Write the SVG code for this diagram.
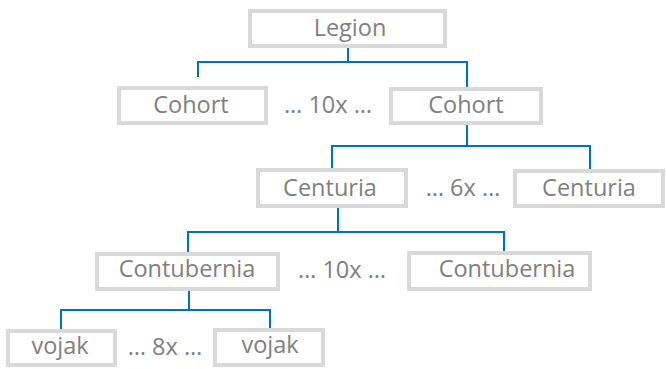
<svg xmlns="http://www.w3.org/2000/svg" width="666" height="369" viewBox="0 0 666 369">
<style>
.box{fill:#fff;stroke:#d9d9d9;stroke-width:4}
.t{font-family:"Open Sans","Liberation Sans",sans-serif;font-size:23.5px;fill:#7f7f7f;text-anchor:middle}
.c{fill:none;stroke:#0070c0;stroke-width:2}
</style>
<rect width="666" height="369" fill="#fff"/>
<g id="connectors">
<path class="c" d="M348 48V62M198 77V62H467V88"/>
<path class="c" d="M467 124V146M332 169V146H590V169"/>
<path class="c" d="M338 208V232M188 252V232H504V252"/>
<path class="c" d="M189 291V310M61 331V310H270V329"/>
</g>
<g id="legion"><rect class="box" x="250" y="11" width="195" height="35"/><text class="t" x="350" y="36">Legion</text></g>
<g id="cohort1"><rect class="box" x="119" y="88" width="147" height="35"/><text class="t" x="191" y="113">Cohort</text></g>
<text class="t" x="328" y="113">… 10x …</text>
<g id="cohort2"><rect class="box" x="391" y="89" width="150" height="34"/><text class="t" x="466" y="113">Cohort</text></g>
<g id="centuria1"><rect class="box" x="258" y="170" width="148" height="36"/><text class="t" x="330" y="196">Centuria</text></g>
<text class="t" x="463" y="196">… 6x …</text>
<g id="centuria2"><rect class="box" x="515" y="171" width="148" height="35"/><text class="t" x="589" y="196">Centuria</text></g>
<g id="contubernia1"><rect class="box" x="97" y="254" width="181" height="35"/><text class="t" x="187" y="277">Contubernia</text></g>
<text class="t" x="342" y="278">… 10x …</text>
<g id="contubernia2"><rect class="box" x="409" y="253" width="181" height="36"/><text class="t" x="507" y="277">Contubernia</text></g>
<g id="vojak1"><rect class="box" x="8" y="331" width="107" height="34"/><text class="t" x="60" y="354">vojak</text></g>
<text class="t" x="165" y="355">… 8x …</text>
<g id="vojak2"><rect class="box" x="215" y="330" width="108" height="35"/><text class="t" x="270" y="353">vojak</text></g>
</svg>
